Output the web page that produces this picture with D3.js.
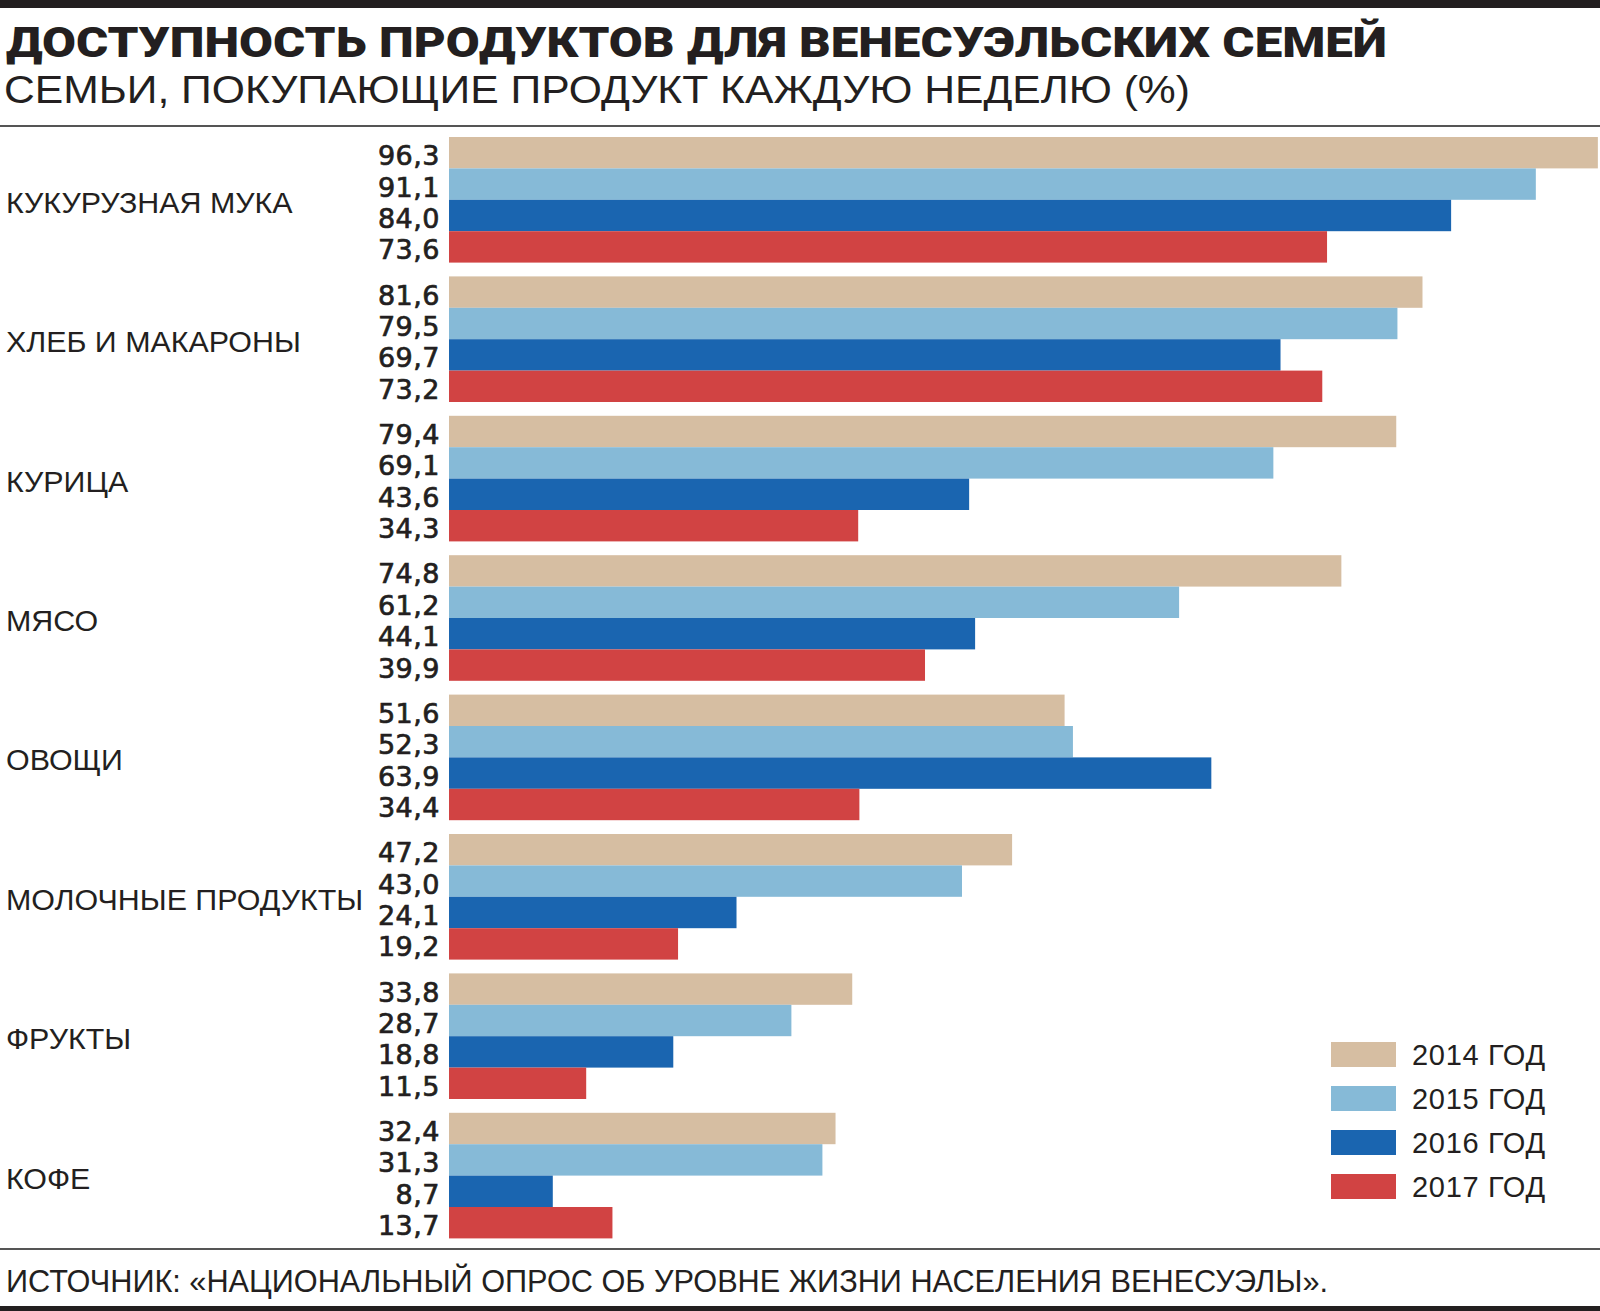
<!DOCTYPE html>
<html><head><meta charset="utf-8">
<script src="https://cdn.jsdelivr.net/npm/d3@7"></script>
<style>
html,body{margin:0;padding:0;background:#fff;}
svg{display:block;}
text{font-family:"Liberation Sans",Arial,sans-serif;fill:#231f20;}
</style></head>
<body>
<svg id="chart" width="1600" height="1311"></svg>
<script>
const title = "ДОСТУПНОСТЬ ПРОДУКТОВ ДЛЯ ВЕНЕСУЭЛЬСКИХ СЕМЕЙ";
const subtitle = "СЕМЬИ, ПОКУПАЮЩИЕ ПРОДУКТ КАЖДУЮ НЕДЕЛЮ (%)";
const source = "ИСТОЧНИК: «НАЦИОНАЛЬНЫЙ ОПРОС ОБ УРОВНЕ ЖИЗНИ НАСЕЛЕНИЯ ВЕНЕСУЭЛЫ».";
const categories = ["КУКУРУЗНАЯ МУКА","ХЛЕБ И МАКАРОНЫ","КУРИЦА","МЯСО","ОВОЩИ","МОЛОЧНЫЕ ПРОДУКТЫ","ФРУКТЫ","КОФЕ"];
const years = ["2014 ГОД","2015 ГОД","2016 ГОД","2017 ГОД"];
const v2014 = [96.3,81.6,79.4,74.8,51.6,47.2,33.8,32.4];
const v2015 = [91.1,79.5,69.1,61.2,52.3,43.0,28.7,31.3];
const v2016 = [84.0,69.7,43.6,44.1,63.9,24.1,18.8,8.7];
const v2017 = [73.6,73.2,34.3,39.9,34.4,19.2,11.5,13.7];
const colors = ["#d6bea2","#86bad7","#1a65b0","#d14343"];

const series = [v2014,v2015,v2016,v2017];
const rows = [];
categories.forEach((c,i)=>series.forEach((s,j)=>rows.push({cat:c,year:years[j],value:s[i],ci:j})));

const svg = d3.select("#chart");
const W = 1600, H = 1311;

// frame
svg.append("rect").attr("x",0).attr("y",0).attr("width",W).attr("height",8).attr("fill","#231f20");
svg.append("rect").attr("x",0).attr("y",1306).attr("width",W).attr("height",5).attr("fill","#231f20");
svg.append("rect").attr("x",0).attr("y",125).attr("width",W).attr("height",2).attr("fill","#555");
svg.append("rect").attr("x",0).attr("y",1248).attr("width",W).attr("height",2).attr("fill","#555");

svg.append("text").attr("x",6).attr("y",57).attr("font-size",42).attr("font-weight",900)
  .style("font-family","Roboto, 'Liberation Sans', sans-serif")
  .attr("textLength",1381).attr("lengthAdjust","spacingAndGlyphs").text(title);
svg.append("text").attr("x",4).attr("y",103).attr("font-size",39)
  .attr("textLength",1186).attr("lengthAdjust","spacingAndGlyphs").text(subtitle);
svg.append("text").attr("x",6).attr("y",1292).attr("font-size",31)
  .attr("textLength",1322).attr("lengthAdjust","spacingAndGlyphs").text(source);

const x = d3.scaleLinear().domain([0,100]).range([449,1642]);
const y = d3.scaleBand().domain(categories).range([137,1238.4]).paddingInner(0.099).paddingOuter(0);
const yi = d3.scaleBand().domain(years).range([0,y.bandwidth()]);
const color = d3.scaleOrdinal().domain(years).range(colors);

const g = svg.append("g");
g.selectAll("rect.bar").data(rows).join("rect").attr("class","bar")
  .attr("x",x(0)).attr("y",d=>y(d.cat)+yi(d.year))
  .attr("width",d=>x(d.value)-x(0)).attr("height",yi.bandwidth())
  .attr("fill",d=>color(d.year));

g.selectAll("text.val").data(rows).join("text").attr("class","val")
  .attr("x",x(0)-9).attr("y",d=>y(d.cat)+yi(d.year)+yi.bandwidth()/2+12.5)
  .attr("text-anchor","end").attr("font-size",27)
  .style("font-family","'DejaVu Sans', sans-serif")
  .style("letter-spacing","0.5px")
  .attr("stroke","#231f20").attr("stroke-width",0.7)
  .text(d=>d.value.toFixed(1).replace(".",","));

g.selectAll("text.cat").data(categories).join("text").attr("class","cat")
  .attr("x",6).attr("y",d=>y(d)+y.bandwidth()/2+13)
  .attr("font-size",30.4).text(d=>d);

// legend
const leg = svg.append("g").selectAll("g").data(years).join("g")
  .attr("transform",(d,i)=>`translate(1331,${1042+i*44})`);
leg.append("rect").attr("width",65).attr("height",25).attr("fill",d=>color(d));
leg.append("text").attr("x",81).attr("y",23).attr("font-size",29)
  .style("letter-spacing","0.7px").text(d=>d);
</script>
</body></html>
